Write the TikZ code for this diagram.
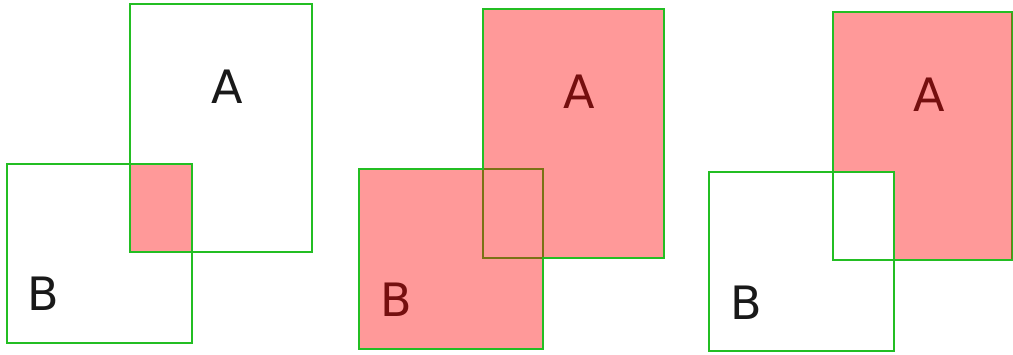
\documentclass[tikz,border=0pt]{standalone}
\usepackage{fontspec}
\setmainfont{DejaVu Sans}
\definecolor{boxgreen}{RGB}{35,190,35}
\definecolor{pinkfill}{RGB}{255,153,153}
\definecolor{labgray}{RGB}{25,25,25}
\tikzset{
  edge/.style={draw=boxgreen, line width=2.2pt},
  overlay/.style={fill=red, fill opacity=0.4},
  lab/.style={font=\fontsize{46}{46}\selectfont, inner sep=0pt, text=labgray}
}
\begin{document}
\begin{tikzpicture}[x=1pt,y=-1pt]
\useasboundingbox (0,0) rectangle (1013,355);
% ---------- panel 1: intersection ----------
\fill[pinkfill] (130,164) rectangle (192,252);
\draw[edge] (130,4) rectangle (312,252);
\draw[edge] (7,164) rectangle (192,343);
\node[lab] (a1) at (227,87) {A};
\node[lab] (b1) at (43,294) {B};
% ---------- panel 2: union ----------
\draw[edge] (483,9) rectangle (664,258);
\draw[edge] (359,169) rectangle (543,349);
\node[lab] (a2) at (579,92) {A};
\node[lab] (b2) at (396,300) {B};
\fill[overlay] (483,9) -- (664,9) -- (664,258) -- (543,258) -- (543,349)
  -- (359,349) -- (359,169) -- (483,169) -- cycle;
\draw[edge] (483,9) -- (664,9) -- (664,258) -- (543,258) -- (543,349)
  -- (359,349) -- (359,169) -- (483,169) -- cycle;
% ---------- panel 3: difference A \ B ----------
\draw[edge] (833,12) rectangle (1012,260);
\node[lab] (a3) at (929,95) {A};
\fill[overlay] (833,12) -- (1012,12) -- (1012,260) -- (894,260)
  -- (894,172) -- (833,172) -- cycle;
\draw[edge] (1012,12) -- (833,12) -- (833,260) -- (1012,260);
\draw[edge] (709,172) rectangle (894,351);
\node[lab] (b3) at (746,303) {B};
\end{tikzpicture}
\end{document}
